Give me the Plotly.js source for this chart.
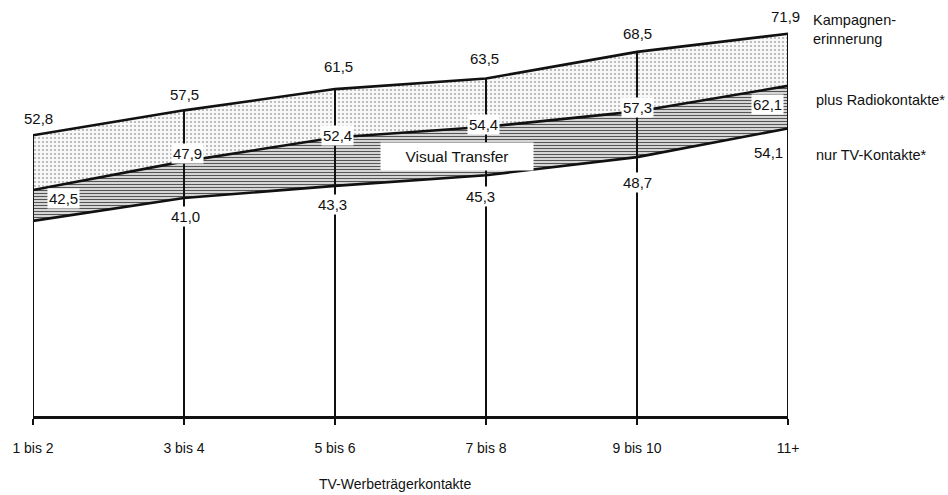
<!DOCTYPE html>
<html>
<head>
<meta charset="utf-8">
<script src="https://cdn.plot.ly/plotly-3.0.1.min.js"></script>
<style>html,body{margin:0;padding:0;background:#fff;}#chart{width:948px;height:495px;}</style>
</head>
<body>
<div id="chart"></div>
<script>
// ---- data ----
const categories = ["1 bis 2", "3 bis 4", "5 bis 6", "7 bis 8", "9 bis 10", "11+"];
const kampagnenErinnerung = [52.8, 57.5, 61.5, 63.5, 68.5, 71.9];
const plusRadio = [42.5, 47.9, 52.4, 54.4, 57.3, 62.1];
const nurTV = [36.7, 41.0, 43.3, 45.3, 48.7, 54.1];   // first value unlabeled, estimated
const labelsTop = ["52,8", "57,5", "61,5", "63,5", "68,5", "71,9"];
const labelsMid = ["42,5", "47,9", "52,4", "54,4", "57,3", "62,1"];
const labelsBot = [null, "41,0", "43,3", "45,3", "48,7", "54,1"];
const seriesNames = ["Kampagnen-<br>erinnerung", "plus Radiokontakte*", "nur TV-Kontakte*"];

const xs = categories.map((c, i) => i);
const FONT = "Liberation Sans, Arial, sans-serif";

// vertical lines from baseline to top series
const vx = [], vy = [];
xs.forEach((x, i) => { vx.push(x, x, null); vy.push(0, kampagnenErinnerung[i], null); });

const traces = [
  {x: xs, y: nurTV, type: "scatter", mode: "lines", line: {color: "#111", width: 2.6}, hoverinfo: "skip"},
  {x: xs, y: plusRadio, type: "scatter", mode: "lines", line: {color: "#111", width: 2.6},
   fill: "tonexty", fillcolor: "white",
   fillpattern: {shape: "-", size: 3, solidity: 0.45, fgcolor: "#555", bgcolor: "#f0f0f0"}, hoverinfo: "skip"},
  {x: xs, y: kampagnenErinnerung, type: "scatter", mode: "lines", line: {color: "#111", width: 2.6},
   fill: "tonexty", fillcolor: "white",
   fillpattern: {shape: ".", size: 4, solidity: 0.2, fgcolor: "#aaa", bgcolor: "#f8f8f8"}, hoverinfo: "skip"},
  {x: vx, y: vy, type: "scatter", mode: "lines", line: {color: "#111", width: 2}, hoverinfo: "skip"}
];

// label offsets (px)
const topShift = [[5, 17], [0, 16], [3, 23], [-2, 20], [0, 18], [-3, 17]];
const midShift = [[30, -8], [3, 8], [2, 2], [-3, 2], [0, 4], [-21, -19]];
const botShift = [[0, 0], [1, -18], [-3, -19], [-6, -21], [0, -25], [-20, -24]];

const annotations = [];
function lab(x, y, t, s) {
  annotations.push({x: x, y: y, text: t, showarrow: false, xshift: s[0], yshift: s[1],
    bgcolor: "white", borderpad: 1, font: {family: FONT, size: 15, color: "#111"}});
}
xs.forEach((x, i) => {
  lab(x, kampagnenErinnerung[i], labelsTop[i], topShift[i]);
  lab(x, plusRadio[i], labelsMid[i], midShift[i]);
  if (labelsBot[i]) lab(x, nurTV[i], labelsBot[i], botShift[i]);
});
// series names at right
annotations.push({xref: "paper", yref: "y", x: 1.031, y: kampagnenErinnerung[5], yshift: 4, xanchor: "left",
  text: seriesNames[0], align: "left", showarrow: false, font: {family: FONT, size: 14.5, color: "#111"}});
annotations.push({xref: "paper", yref: "y", x: 1.034, y: plusRadio[5], yshift: -14, xanchor: "left",
  text: seriesNames[1], align: "left", showarrow: false, font: {family: FONT, size: 14.5, color: "#111"}});
annotations.push({xref: "paper", yref: "y", x: 1.034, y: nurTV[5], yshift: -27, xanchor: "left",
  text: seriesNames[2], align: "left", showarrow: false, font: {family: FONT, size: 14.5, color: "#111"}});
// Visual Transfer
annotations.push({xref: "paper", yref: "paper", x: 0.562, y: 0.643, text: "Visual Transfer", showarrow: false,
  bgcolor: "white", width: 150, height: 25, font: {family: FONT, size: 15.5, color: "#111"}});
// axis title
annotations.push({xref: "paper", yref: "paper", x: 0.479, y: -0.168, yanchor: "middle",
  text: "TV-Werbeträgerkontakte", showarrow: false, font: {family: FONT, size: 14, color: "#111"}});

const layout = {
  width: 948, height: 495,
  margin: {l: 33, r: 160, t: 12, b: 79},
  paper_bgcolor: "white", plot_bgcolor: "white",
  showlegend: false,
  xaxis: {range: [0, 5], tickvals: xs, ticktext: categories, showgrid: false, zeroline: false,
    showline: true, linecolor: "#111", linewidth: 2.5, ticks: "outside", ticklen: 6, tickwidth: 1.5,
    tickcolor: "#111", ticklabelstandoff: 12, tickfont: {family: FONT, size: 14, color: "#111"}},
  yaxis: {range: [0, 76], visible: false, showgrid: false, zeroline: false},
  annotations: annotations
};

Plotly.newPlot("chart", traces, layout, {staticPlot: true, displayModeBar: false});
</script>
</body>
</html>
